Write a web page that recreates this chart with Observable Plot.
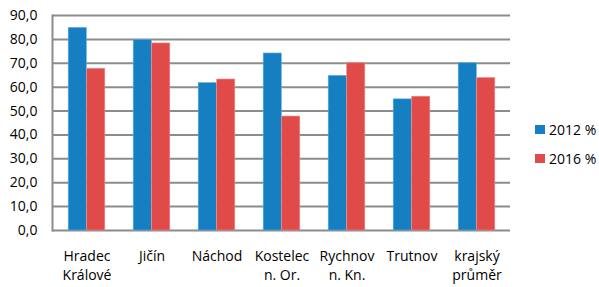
<!DOCTYPE html>
<html>
<head>
<meta charset="utf-8">
<script src="https://cdn.jsdelivr.net/npm/d3@7"></script>
<script src="https://cdn.jsdelivr.net/npm/@observablehq/plot@0.6"></script>
<style>
  html, body { margin: 0; padding: 0; background: #fff; }
  #wrap { position: relative; width: 599px; height: 287px; font-family: "Open Sans", sans-serif; }
  .leg { position: absolute; left: 535px; font-size: 14px; color: #000; display: flex; align-items: center; white-space: nowrap; }
  .sw { width: 10px; height: 9px; margin-right: 4px; }
</style>
</head>
<body>
<div id="wrap"></div>
<script>
const categories = ["Hradec Králové", "Jičín", "Náchod", "Kostelec n. Or.", "Rychnov n. Kn.", "Trutnov", "krajský průměr"];
const tickLabels = ["Hradec\nKrálové", "Jičín", "Náchod", "Kostelec\nn. Or.", "Rychnov\nn. Kn.", "Trutnov", "krajský\nprůměr"];
const series2012 = [84.8, 79.8, 61.7, 74.1, 64.7, 54.9, 70.0];
const series2016 = [67.7, 78.3, 63.2, 47.7, 70.0, 56.0, 63.8];
const seriesNames = ["2012 %", "2016 %"];
const colors = ["#167fc2", "#e04a49"];
const yTicks = [0, 10, 20, 30, 40, 50, 60, 70, 80, 90];

const rows2012 = categories.map((c, i) => ({cat: c, value: series2012[i]}));
const rows2016 = categories.map((c, i) => ({cat: c, value: series2016[i]}));
const labelOf = new Map(categories.map((c, i) => [c, tickLabels[i]]));

const chart = Plot.plot({
  width: 599,
  height: 287,
  marginLeft: 52,
  marginRight: 89,
  marginTop: 15,
  marginBottom: 57,
  style: {fontFamily: "Open Sans, sans-serif", fontSize: "14px", color: "#000", background: "#fff"},
  x: {domain: categories, padding: 0, label: null},
  y: {domain: [0, 90], label: null},
  marks: [
    Plot.ruleY(yTicks, {stroke: "#8c8c8c", strokeWidth: 2}),
    Plot.frame({anchor: "left", stroke: "#8c8c8c", strokeWidth: 2}),
    Plot.barY(rows2012, {x: "cat", y: "value", fill: colors[0], insetLeft: 14.2, insetRight: 32.7, stroke: "#5aaee0", strokeWidth: 0.6}),
    Plot.barY(rows2016, {x: "cat", y: "value", fill: colors[1], insetLeft: 32.7, insetRight: 14.2, stroke: "#f08a88", strokeWidth: 0.6}),
    Plot.axisY({ticks: yTicks, tickSize: 0, tickPadding: 15, tickFormat: d => d3.format(".1f")(d).replace(".", ","), fontSize: 14}),
    Plot.axisX({tickSize: 0, tickPadding: 17, tickFormat: d => labelOf.get(d), lineHeight: 1.35, fontSize: 14})
  ]
});
const wrap = document.getElementById("wrap");
wrap.appendChild(chart);
seriesNames.forEach((name, i) => {
  const d = document.createElement("div");
  d.className = "leg";
  d.style.top = (i === 0 ? 120 : 149) + "px";
  d.innerHTML = `<span class="sw" style="background:${colors[i]}"></span><span>${name}</span>`;
  wrap.appendChild(d);
});
</script>
</body>
</html>
